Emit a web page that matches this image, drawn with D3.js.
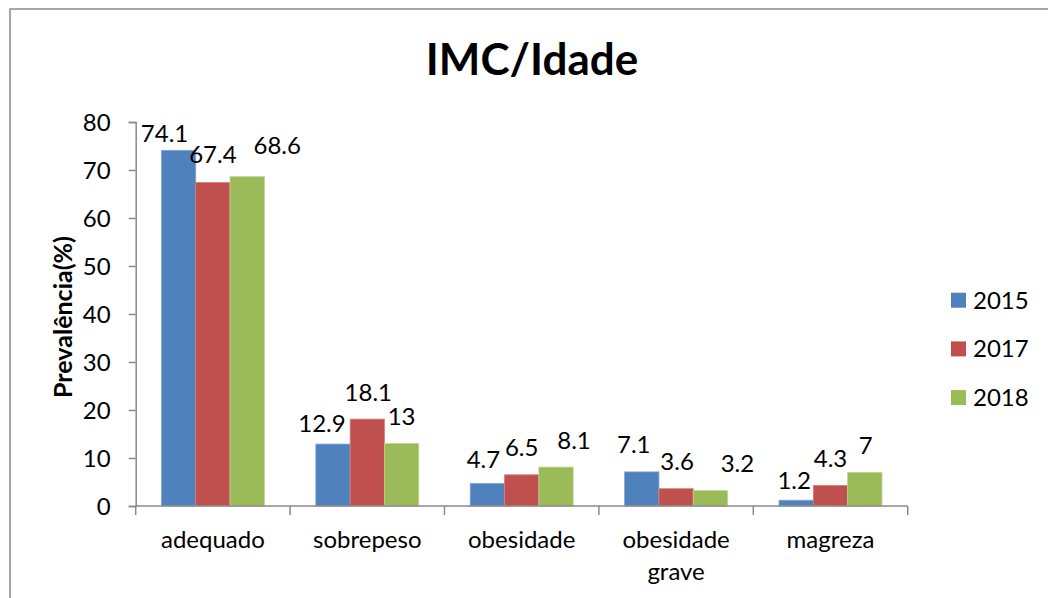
<!DOCTYPE html>
<html>
<head>
<meta charset="utf-8">
<script src="https://cdn.jsdelivr.net/npm/d3@7"></script>
<style>
  body { margin: 0; background: #fff; }
  svg { display: block; font-family: Lato, "Open Sans", sans-serif; }
</style>
</head>
<body>
<div id="chart"></div>
<script>
// data
var categories = ["adequado", "sobrepeso", "obesidade", "obesidade grave", "magreza"];
var years = ["2015", "2017", "2018"];
var values2015 = [74.1, 12.9, 4.7, 7.1, 1.2];
var values2017 = [67.4, 18.1, 6.5, 3.6, 4.3];
var values2018 = [68.6, 13, 8.1, 3.2, 7];
var yTicks = [0, 10, 20, 30, 40, 50, 60, 70, 80];

// label nudges (px) relative to the default spot above each bar, as in the original
var nudgeX = {
  "2015": [-14, -11, -4, -8, -2],
  "2017": [0, 1, 0, 1, 0],
  "2018": [30, 0, 18, 27, 1]
};
var nudgeY = {
  "2015": [10, 6, 3, 0, 7],
  "2017": [-1, 0, 0, 0, 0],
  "2018": [-4, 0, 0, 0, 0]
};

var series = { "2015": values2015, "2017": values2017, "2018": values2018 };
var color = d3.scaleOrdinal().domain(years).range(["#4f81bd", "#c0504d", "#9bbb59"]);
var edge = d3.scaleOrdinal().domain(years).range(["#7ea3d3", "#d67f7d", "#bcd38e"]);

var fs = 24; // text size used by ticks, labels and legend

var W = 1048, H = 598;
var svg = d3.select("#chart").append("svg")
    .attr("width", W)
    .attr("height", H);

// chart frame (right and bottom sides fall outside the picture)
svg.append("rect")
    .attr("x", 10).attr("y", 9)
    .attr("width", 1100).attr("height", 700)
    .attr("fill", "none")
    .attr("stroke", "#8a8a8a")
    .attr("stroke-width", 1.5);

// ---------------------------//
//       AXIS  AND SCALE      //
// ---------------------------//
var x0 = d3.scaleBand()
    .domain(categories)
    .range([135.7, 907.7]);

var x1 = d3.scaleBand()
    .domain(years)
    .range([0, x0.bandwidth()])
    .paddingInner(0)
    .paddingOuter(0.75);

var y = d3.scaleLinear()
    .domain([0, 80])
    .range([506, 122]);

// bars
var rows = [];
categories.forEach(function(c, i) {
  years.forEach(function(yr) {
    rows.push({ cat: c, i: i, year: yr, value: series[yr][i] });
  });
});

svg.append("g")
  .selectAll("rect")
  .data(rows)
  .enter()
  .append("rect")
    .attr("x", function(d) { return x0(d.cat) + x1(d.year); })
    .attr("y", function(d) { return y(d.value); })
    .attr("width", x1.bandwidth())
    .attr("height", function(d) { return y(0) - y(d.value); })
    .attr("fill", function(d) { return color(d.year); })
    .attr("stroke", function(d) { return edge(d.year); })
    .attr("stroke-width", 0.8);

// Y axis
var yAxis = svg.append("g")
    .attr("transform", "translate(135.7,0)")
    .call(d3.axisLeft(y).tickValues(yTicks).tickSize(7).tickPadding(18));
yAxis.select(".domain").attr("stroke", "#8a8a8a").attr("stroke-width", 1.5);
yAxis.selectAll(".tick line").attr("stroke", "#8a8a8a").attr("stroke-width", 1.5);
yAxis.selectAll(".tick text")
    .attr("font-family", "Lato, sans-serif")
    .attr("font-size", fs)
    .attr("fill", "#000")
    .attr("dy", "0.36em");

// X axis line and boundary ticks
var xAxis = svg.append("g");
xAxis.append("line")
    .attr("x1", x0.range()[0]).attr("x2", x0.range()[1])
    .attr("y1", y(0)).attr("y2", y(0))
    .attr("stroke", "#8a8a8a").attr("stroke-width", 1.5);
var bounds = categories.map(function(c) { return x0(c); }).concat([x0.range()[1]]);
xAxis.selectAll("line.tk")
  .data(bounds)
  .enter()
  .append("line")
    .attr("class", "tk")
    .attr("x1", function(d) { return d; }).attr("x2", function(d) { return d; })
    .attr("y1", y(0)).attr("y2", y(0) + 9)
    .attr("stroke", "#8a8a8a").attr("stroke-width", 1.5);

// category labels, wrapped to the band width
xAxis.selectAll("text.cat")
  .data(categories)
  .enter()
  .append("text")
    .attr("class", "cat")
    .attr("x", function(d) { return x0(d) + x0.bandwidth() / 2; })
    .attr("y", 548)
    .attr("text-anchor", "middle")
    .attr("font-size", fs)
    .attr("fill", "#000")
    .each(function(d) {
      var t = d3.select(this), words = d.split(" "), line = [];
      var cx = x0(d) + x0.bandwidth() / 2;
      var tspan = t.append("tspan").attr("x", cx).attr("dy", 0);
      words.forEach(function(w) {
        line.push(w);
        tspan.text(line.join(" "));
        if (tspan.node().getComputedTextLength() > x0.bandwidth() - 10 && line.length > 1) {
          line.pop();
          tspan.text(line.join(" "));
          line = [w];
          tspan = t.append("tspan").attr("x", cx).attr("dy", 32).text(w);
        }
      });
    });

// ---------------------------//
//       DATA LABELS          //
// ---------------------------//
svg.append("g")
  .selectAll("text")
  .data(rows)
  .enter()
  .append("text")
    .attr("x", function(d) { return x0(d.cat) + x1(d.year) + x1.bandwidth() / 2 + nudgeX[d.year][d.i]; })
    .attr("y", function(d) { return y(d.value) - 18.5 + nudgeY[d.year][d.i]; })
    .attr("text-anchor", "middle")
    .attr("font-size", fs)
    .attr("fill", "#000")
    .text(function(d) { return d.value; });

// Title
svg.append("text")
    .attr("x", 532)
    .attr("y", 75)
    .attr("text-anchor", "middle")
    .attr("font-size", 44)
    .attr("font-weight", "bold")
    .attr("fill", "#000")
    .text("IMC/Idade");

// Y axis label
svg.append("text")
    .attr("transform", "translate(72,317) rotate(-90)")
    .attr("text-anchor", "middle")
    .attr("font-size", 25)
    .attr("font-weight", "bold")
    .attr("fill", "#000")
    .text("Prevalência(%)");

// ---------------------------//
//       LEGEND               //
// ---------------------------//
var legend = svg.append("g")
  .selectAll("g")
  .data(years)
  .enter()
  .append("g")
    .attr("transform", function(d, i) { return "translate(951," + (292.7 + i * 48.7) + ")"; });
legend.append("rect")
    .attr("width", 15).attr("height", 15)
    .attr("fill", function(d) { return color(d); });
legend.append("text")
    .attr("x", 22)
    .attr("y", 16)
    .attr("font-size", fs)
    .attr("fill", "#000")
    .text(function(d) { return d; });
</script>
</body>
</html>
